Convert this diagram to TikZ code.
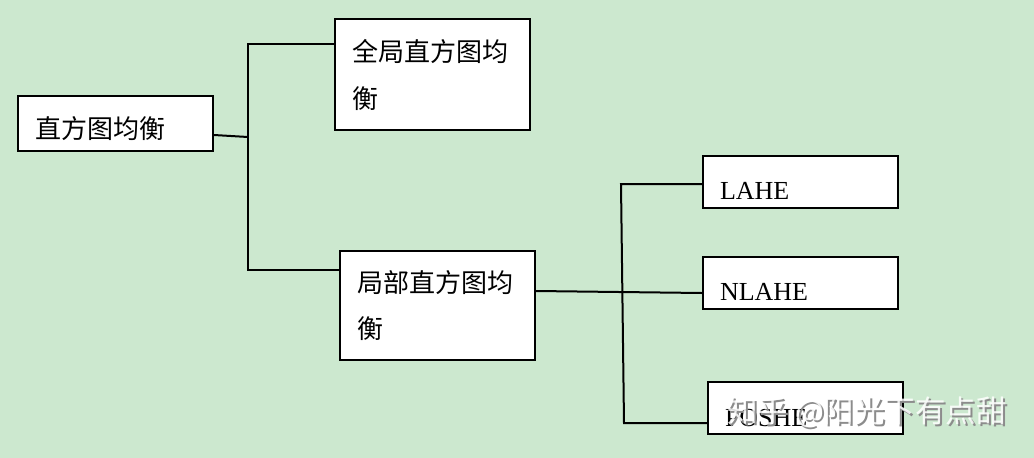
\documentclass[tikz,border=0pt]{standalone}
\usepackage{fontspec}
\setmainfont{Liberation Serif}
\newfontfamily\cjk{Noto Sans CJK SC}
\definecolor{bggreen}{RGB}{204,232,207}
\newcommand{\lowered}[2]{\raisebox{-#1}[0pt][0pt]{#2}}
\begin{document}
\begin{tikzpicture}[x=1pt,y=-1pt,
  box/.style={draw=black,fill=white,line width=2pt,rectangle,minimum width=195pt,
    inner xsep=17pt,text width=161pt,align=left,font=\fontsize{26}{44}\selectfont},
  conn/.style={draw=black,line width=2pt},
  wm/.style={font=\cjk\fontsize{30.5}{32}\selectfont,anchor=west,inner sep=0pt}]
\fill[bggreen] (0,0) rectangle (1034,458);
\useasboundingbox (0,0) rectangle (1034,458);

\node[box,minimum height=55pt] (root) at (115.5,123.5) {\lowered{15pt}{\cjk 直方图均衡}};
\node[box,minimum height=111pt] (global) at (432.5,74.5) {\cjk\vspace*{3pt}全局直方图均\\衡};
\node[box,minimum height=109pt] (local) at (437.5,305.5) {\cjk\vspace*{2pt}局部直方图均\\衡};
\node[box,minimum height=52pt] (lahe) at (800.5,182) {\lowered{17pt}{LAHE}};
\node[box,minimum height=52pt] (nlahe) at (800.5,283) {\lowered{17pt}{NLAHE}};
\node[box,minimum height=52pt] (poshe) at (805.5,408) {\lowered{18pt}{POSHE}};

\coordinate (j1) at (248,137);
\coordinate (j1t) at (248,44);
\coordinate (j1b) at (248,270);
\draw[conn] (root.east |- 0,135) -- (j1);
\draw[conn] (global.west |- j1t) -- (j1t) -- (j1b) -- (local.west |- j1b);

\coordinate (j2t) at (621,184);
\coordinate (j2b) at (624,423);
\draw[conn] (local.east |- 0,291) -- (nlahe.west |- 0,293);
\draw[conn] (lahe.west |- j2t) -- (j2t) -- (j2b) -- (poshe.west |- j2b);

\node[wm,text=black!45] (wmshadow) at (729,414) {知乎 @阳光下有点甜};
\node[wm,text=white,opacity=0.85] (wmtext) at (727,412) {知乎 @阳光下有点甜};
\end{tikzpicture}
\end{document}
